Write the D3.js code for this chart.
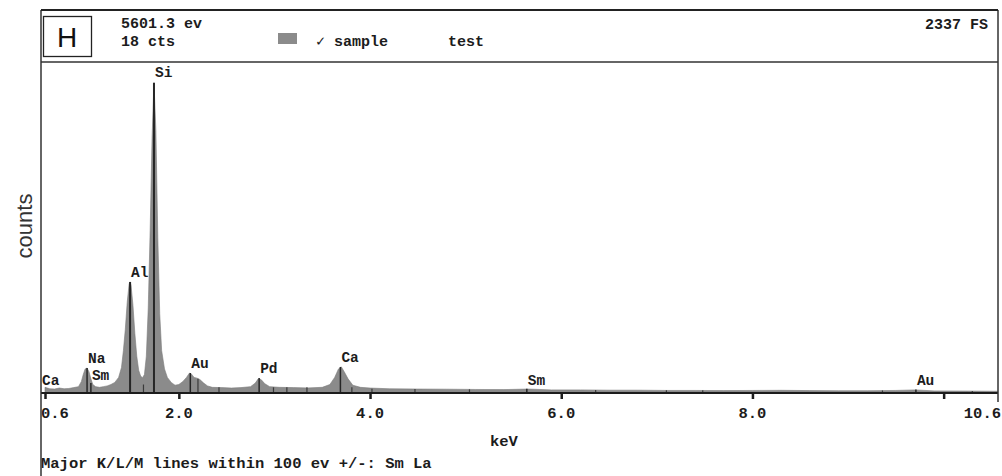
<!DOCTYPE html>
<meta charset="utf-8">
<script src="https://d3js.org/d3.v7.min.js"></script>
<div id="chart"></div>
<style>
	body {
		margin: 0;
		padding: 0;
		background: #fff;
		overflow: hidden;
	}
	.mono {
		font-family: "Liberation Mono", "DejaVu Sans Mono", monospace;
		font-weight: bold;
		fill: #1c1c1c;
	}
</style>
<script>
	// spectrum (keV, counts)
	const energies = [
		0.60, 0.65, 0.70, 0.75, 0.80, 0.85, 0.90, 0.95, 0.98, 1.00,
		1.02, 1.04, 1.06, 1.08, 1.10, 1.13, 1.17, 1.21, 1.25, 1.29,
		1.33, 1.37, 1.40, 1.42, 1.44, 1.46, 1.48, 1.49, 1.50, 1.52,
		1.54, 1.56, 1.58, 1.60, 1.62, 1.64, 1.66, 1.68, 1.70, 1.72,
		1.74, 1.76, 1.78, 1.80, 1.82, 1.85, 1.88, 1.92, 1.96, 2.00,
		2.04, 2.08, 2.11, 2.13, 2.16, 2.19, 2.22, 2.26, 2.30, 2.35,
		2.45, 2.55, 2.65, 2.75, 2.80, 2.83, 2.86, 2.90, 2.95, 3.05,
		3.20, 3.35, 3.50, 3.58, 3.63, 3.67, 3.70, 3.73, 3.77, 3.82,
		3.90, 4.00, 4.20, 4.50, 4.80, 5.10, 5.40, 5.65, 5.90, 6.20,
		6.50, 6.80, 7.10, 7.40, 7.70, 8.00, 8.30, 8.60, 8.90, 9.20,
		9.50, 9.70, 9.90, 10.20, 10.60
	];
	const counts = [
		40, 30, 28, 35, 30, 32, 38, 45, 80, 130,
		170, 176, 150, 100, 60, 45, 40, 45, 50, 60,
		75, 110, 180, 300, 450, 640, 770, 784, 760, 620,
		420, 260, 160, 120, 108, 130, 260, 600, 1150, 1800,
		2190, 1850, 1100, 560, 300, 170, 110, 75, 55, 60,
		80, 110, 140, 135, 110, 105, 95, 70, 50, 40,
		38, 35, 38, 45, 70, 100, 95, 65, 45, 40,
		38, 36, 40, 60, 110, 170, 184, 150, 100, 55,
		40, 35, 30, 28, 27, 25, 24, 28, 22, 22,
		20, 20, 18, 18, 17, 18, 19, 17, 16, 16,
		18, 22, 15, 14, 12
	];

	// element markers
	const markerNames = ["Ca", "Na", "Sm", "Al", "Si", "Au", "Pd", "Ca", "Sm", "Au"];
	const markerKeV = [0.60, 1.04, 1.08, 1.49, 1.74, 2.12, 2.84, 3.69, 5.64, 9.71];
	const markerTop = [0, 176, 70, 784, 2190, 141, 106, 184, 30, 25];
	const labelCounts = [55, 215, 95, 820, 2230, 180, 140, 220, 55, 55];
	// small unlabeled marker lines along the baseline
	const minorKeV = [1.63, 2.20, 2.42, 2.99, 3.13, 3.34, 3.81, 4.02, 4.47, 5.04, 6.36, 7.10, 7.48, 9.36, 10.3];
	const minorTop = [60, 100, 40, 40, 40, 40, 40, 30, 28, 26, 22, 20, 20, 18, 15];

	const xTicks = [0.6, 2, 4, 6, 8, 10];
	const xLabels = ["0.6", "2.0", "4.0", "6.0", "8.0", "10.6"];
	const xLabelAt = [0.6, 2, 4, 6, 8, 10.6];

	const fullScale = 2337;

	const W = 1002, H = 476;
	const frameL = 41, frameR = 998, frameT = 10, headBottom = 62, base = 393;

	const svg = d3.select("#chart").append("svg")
		.attr("width", W)
		.attr("height", H);

	const x = d3.scaleLinear().domain([0.6, 10.6]).range([45, 1001]);
	const y = d3.scaleLinear().domain([0, fullScale]).range([base, headBottom]);

	svg.append("clipPath").attr("id", "plot")
		.append("rect")
		.attr("x", frameL).attr("y", headBottom)
		.attr("width", frameR - frameL).attr("height", base - headBottom);

	const data = energies.map((e, i) => ({ e, c: counts[i] }));

	const area = d3.area()
		.x(d => x(d.e))
		.y0(y(0))
		.y1(d => y(d.c));

	const g = svg.append("g").attr("clip-path", "url(#plot)");

	g.append("path")
		.datum(data)
		.attr("d", area)
		.attr("fill", "#8b8b8b")
		.attr("stroke", "#7a7a7a")
		.attr("stroke-width", 0.6);

	// marker lines
	g.selectAll("line.major")
		.data(markerKeV.map((e, i) => ({ e, c: markerTop[i] })).filter(d => d.c > 0))
		.join("line")
		.attr("class", "major")
		.attr("x1", d => x(d.e)).attr("x2", d => x(d.e))
		.attr("y1", y(0)).attr("y2", d => y(d.c))
		.attr("stroke", "#262626")
		.attr("stroke-width", d => d.c > 500 ? 2 : 1.5);

	g.selectAll("line.minor")
		.data(minorKeV.map((e, i) => ({ e, c: minorTop[i] })))
		.join("line")
		.attr("class", "minor")
		.attr("x1", d => x(d.e)).attr("x2", d => x(d.e))
		.attr("y1", y(0)).attr("y2", d => y(d.c))
		.attr("stroke", "#3a3a3a")
		.attr("stroke-width", 1.2);

	// peak labels
	svg.selectAll("text.peak")
		.data(markerNames.map((n, i) => ({ n, e: markerKeV[i], c: labelCounts[i] })))
		.join("text")
		.attr("class", "peak mono")
		.attr("x", (d, i) => i === 0 ? frameL + 1 : x(d.e) + 1)
		.attr("y", d => y(d.c))
		.attr("font-size", 14.5)
		.text(d => d.n);

	// x axis ticks
	const axis = svg.append("g")
		.attr("transform", `translate(0,${base})`)
		.call(d3.axisBottom(x).tickValues(xTicks).tickSize(6).tickFormat(""));
	axis.select(".domain").remove();
	axis.selectAll(".tick line").attr("stroke", "#1c1c1c").attr("stroke-width", 2.5);

	svg.append("line")
		.attr("x1", frameL).attr("x2", frameR)
		.attr("y1", base).attr("y2", base)
		.attr("stroke", "#1c1c1c").attr("stroke-width", 2);

	svg.selectAll("text.xl")
		.data(xLabels)
		.join("text")
		.attr("class", "xl mono")
		.attr("x", (d, i) => i === 0 ? frameL : x(xLabelAt[i]))
		.attr("y", 418)
		.attr("font-size", 15.5)
		.attr("text-anchor", (d, i) => i === 0 ? "start" : (i === xLabels.length - 1 ? "end" : "middle"))
		.text(d => d);

	svg.append("text").attr("class", "mono")
		.attr("x", 490).attr("y", 446)
		.attr("font-size", 15.5)
		.text("keV");

	svg.append("text").attr("class", "mono")
		.attr("x", frameL).attr("y", 468)
		.attr("font-size", 15.5)
		.text("Major K/L/M lines within 100 ev +/-: Sm La");

	// frame
	svg.append("line")
		.attr("x1", frameL).attr("x2", frameL).attr("y1", frameT).attr("y2", H)
		.attr("stroke", "#333").attr("stroke-width", 1.5);
	svg.append("line")
		.attr("x1", frameR).attr("x2", frameR).attr("y1", frameT).attr("y2", 402)
		.attr("stroke", "#333").attr("stroke-width", 1.5);
	svg.append("line")
		.attr("x1", frameL).attr("x2", frameR).attr("y1", frameT).attr("y2", frameT)
		.attr("stroke", "#222").attr("stroke-width", 2);
	svg.append("line")
		.attr("x1", frameL).attr("x2", frameR).attr("y1", headBottom).attr("y2", headBottom)
		.attr("stroke", "#333").attr("stroke-width", 1.5);

	// header
	svg.append("rect")
		.attr("x", 43.5).attr("y", 16.5).attr("width", 48).attr("height", 40)
		.attr("fill", "none").attr("stroke", "#222").attr("stroke-width", 1.3);
	svg.append("text")
		.attr("x", 67).attr("y", 47)
		.attr("text-anchor", "middle")
		.attr("font-family", "Liberation Sans, Arial, sans-serif")
		.attr("font-size", 28)
		.attr("fill", "#111")
		.text("H");

	svg.append("text").attr("class", "mono")
		.attr("x", 121).attr("y", 28).attr("font-size", 15)
		.text("5601.3 ev");
	svg.append("text").attr("class", "mono")
		.attr("x", 121).attr("y", 46).attr("font-size", 15)
		.text("18 cts");
	svg.append("text").attr("class", "mono")
		.attr("x", 988).attr("y", 29).attr("font-size", 15)
		.attr("text-anchor", "end")
		.text(`${fullScale} FS`);

	svg.append("rect")
		.attr("x", 278).attr("y", 33).attr("width", 19).attr("height", 11)
		.attr("fill", "#8b8b8b");
	svg.append("text").attr("class", "mono")
		.attr("x", 316).attr("y", 46).attr("font-size", 15)
		.text("\u2713 sample");
	svg.append("text").attr("class", "mono")
		.attr("x", 448).attr("y", 46).attr("font-size", 15)
		.text("test");

	// y label
	svg.append("text")
		.attr("transform", "translate(32,226) rotate(-90)")
		.attr("text-anchor", "middle")
		.attr("font-family", "Liberation Sans, Arial, sans-serif")
		.attr("font-size", 22)
		.attr("fill", "#333")
		.text("counts");
</script>
